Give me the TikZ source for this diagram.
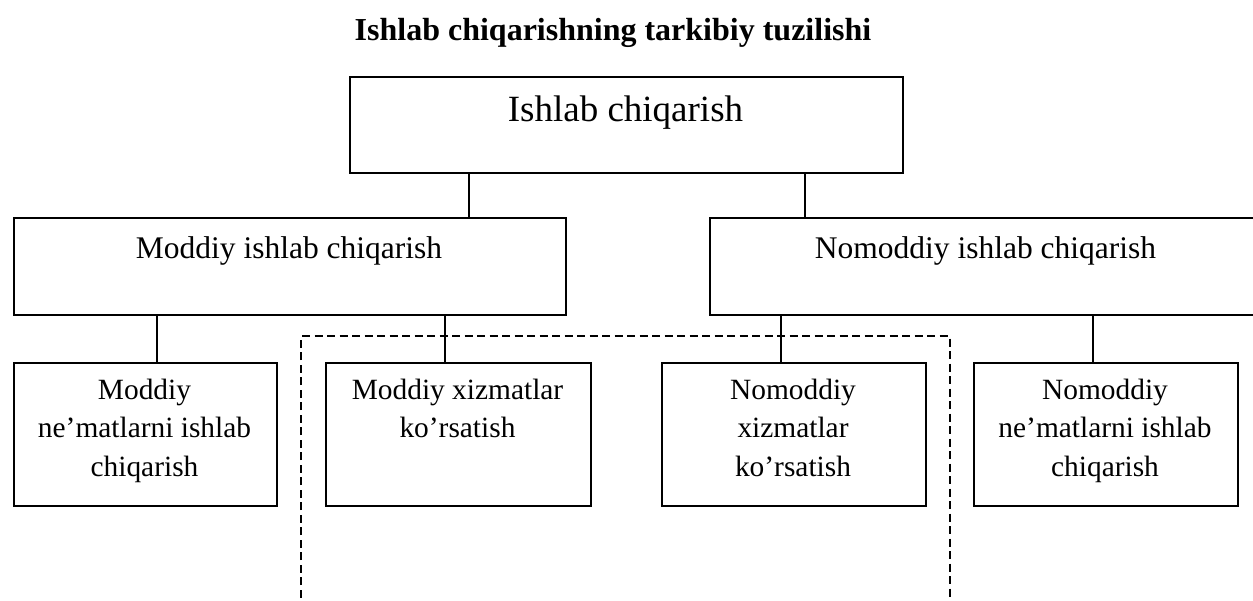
\documentclass[tikz,border=0pt]{standalone}
\usepackage{fontspec}
\setmainfont{Liberation Serif}
\begin{document}
\begin{tikzpicture}[x=1pt,y=-1pt,
  bigbox/.style={draw,line width=2.4pt,anchor=north west,inner sep=0pt},
  smallbox/.style={draw,line width=1.8pt,anchor=north west,inner sep=0pt},
  lbl/.style={anchor=base,inner sep=0pt},
  lowlbl/.style={anchor=base,inner sep=0pt,align=center,font=\fontsize{29.4pt}{38.5pt}\selectfont},
  conn/.style={line width=1.3pt},
  frame/.style={line width=2pt,dash pattern=on 8pt off 4.5pt}]
\useasboundingbox (0,0) rectangle (1253,600);
\clip (0,0) rectangle (1253,600);
% title
\node[lbl,font=\fontsize{32pt}{38pt}\selectfont\bfseries] (title) at (613,40) {Ishlab chiqarishning tarkibiy tuzilishi};
% boxes
\node[bigbox,minimum width=553pt,minimum height=96pt] (top) at (349,76) {};
\node[bigbox,minimum width=552pt,minimum height=97pt] (mod) at (13,217) {};
\node[bigbox,minimum width=553pt,minimum height=97pt] (nom) at (709,217) {};
\node[smallbox,minimum width=263pt,minimum height=143pt] (b1) at (13,362) {};
\node[smallbox,minimum width=265pt,minimum height=143pt] (b2) at (325,362) {};
\node[smallbox,minimum width=264pt,minimum height=143pt] (b3) at (661,362) {};
\node[smallbox,minimum width=264pt,minimum height=143pt] (b4) at (973,362) {};
% texts (base anchor = last line baseline)
\node[lbl,font=\fontsize{37pt}{44pt}\selectfont] (toptxt) at (625.5,121) {Ishlab chiqarish};
\node[lbl,font=\fontsize{31.5pt}{38pt}\selectfont] (modtxt) at (289,258) {Moddiy ishlab chiqarish};
\node[lbl,font=\fontsize{31.5pt}{38pt}\selectfont] (nomtxt) at (985.5,258) {Nomoddiy ishlab chiqarish};
\node[lowlbl] (t1) at (144.5,476) {Moddiy\\ne’matlarni ishlab\\chiqarish};
\node[lowlbl] (t2) at (457.5,437.5) {Moddiy xizmatlar\\ko’rsatish};
\node[lowlbl] (t3) at (793,476) {Nomoddiy\\xizmatlar\\ko’rsatish};
\node[lowlbl] (t4) at (1105,476) {Nomoddiy\\ne’matlarni ishlab\\chiqarish};
% connector columns
\coordinate (c1) at (469,0);
\coordinate (c2) at (805,0);
\coordinate (c3) at (157,0);
\coordinate (c4) at (445,0);
\coordinate (c5) at (781,0);
\coordinate (c6) at (1093,0);
\draw[conn] (top.south -| c1) -- (mod.north -| c1);
\draw[conn] (top.south -| c2) -- (nom.north -| c2);
\draw[conn] (mod.south -| c3) -- (b1.north -| c3);
\draw[conn] (mod.south -| c4) -- (b2.north -| c4);
\draw[conn] (nom.south -| c5) -- (b3.north -| c5);
\draw[conn] (nom.south -| c6) -- (b4.north -| c6);
% dashed frame
\coordinate (fl) at (301,610);
\coordinate (ftl) at (301,336);
\coordinate (ftr) at (949.5,336);
\coordinate (fr) at (949.5,610);
\draw[frame] (fl) -- (ftl) -- (ftr) -- (fr);
\end{tikzpicture}
\end{document}
